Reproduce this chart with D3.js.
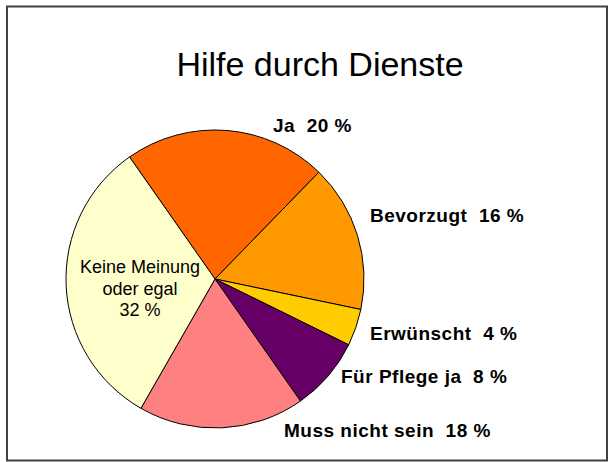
<!DOCTYPE html>
<html>
<head>
<meta charset="utf-8">
<script src="https://cdn.jsdelivr.net/npm/d3@7"></script>
<style>
  html, body { margin: 0; padding: 0; background: #fff; }
  svg { display: block; font-family: "Liberation Sans", Arial, sans-serif; }
</style>
</head>
<body>
<svg id="chart" width="608" height="462"></svg>
<script>
// Slices, clockwise starting from "Ja"
const categories = ['Ja', 'Bevorzugt', 'Erwünscht', 'Für Pflege ja', 'Muss nicht sein', 'Keine Meinung oder egal'];
const values = [22, 16, 4, 8, 18, 32];
const labelTexts = ['Ja  20 %', 'Bevorzugt  16 %', 'Erwünscht  4 %', 'Für Pflege ja  8 %', 'Muss nicht sein  18 %', ['Keine Meinung', 'oder egal', '32 %']];
const colors = ['#FF6600', '#FF9900', '#FFCC00', '#660066', '#FF8080', '#FFFFCC'];

const width = 608, height = 462;
const cx = 215, cy = 279, radius = 149;

// label anchors (left x / baseline y)
const labelPos = [
  { x: 273, y: 132 },
  { x: 370, y: 222 },
  { x: 370, y: 340 },
  { x: 341, y: 383 },
  { x: 284, y: 437 }
];

const svg = d3.select('#chart');

// chart area frame
svg.append('rect')
  .attr('x', 7).attr('y', 6.5)
  .attr('width', 600).attr('height', 454)
  .attr('fill', '#fff')
  .attr('stroke', '#404040')
  .attr('stroke-width', 2);

// title
svg.append('text')
  .attr('x', 320).attr('y', 76)
  .attr('text-anchor', 'middle')
  .style('font-size', '34px')
  .text('Hilfe durch Dienste');

const pie = d3.pie()
  .sort(null)
  .startAngle(-35 * Math.PI / 180)
  .endAngle(325 * Math.PI / 180);

const arc = d3.arc().innerRadius(0).outerRadius(radius);

const arcs = pie(values);

const g = svg.append('g').attr('transform', `translate(${cx},${cy})`);

g.selectAll('path')
  .data(arcs)
  .join('path')
  .attr('d', arc)
  .attr('fill', (d, i) => colors[i])
  .attr('stroke', '#000')
  .attr('stroke-width', 1)
  .attr('stroke-linejoin', 'round');

// outside labels (bold)
svg.selectAll('.lbl')
  .data(labelTexts.slice(0, 5))
  .join('text')
  .attr('class', 'lbl')
  .attr('x', (d, i) => labelPos[i].x)
  .attr('y', (d, i) => labelPos[i].y)
  .style('font-size', '19px')
  .style('font-weight', 'bold')
  .style('letter-spacing', '0.5px')
  .style('white-space', 'pre')
  .text(d => d);

// inside label for the big slice
const inner = svg.append('text')
  .attr('text-anchor', 'middle')
  .style('font-size', '18px');
labelTexts[5].forEach((line, i) => {
  inner.append('tspan')
    .attr('x', 140)
    .attr('y', 273 + i * 21.7)
    .text(line);
});
</script>
</body>
</html>
